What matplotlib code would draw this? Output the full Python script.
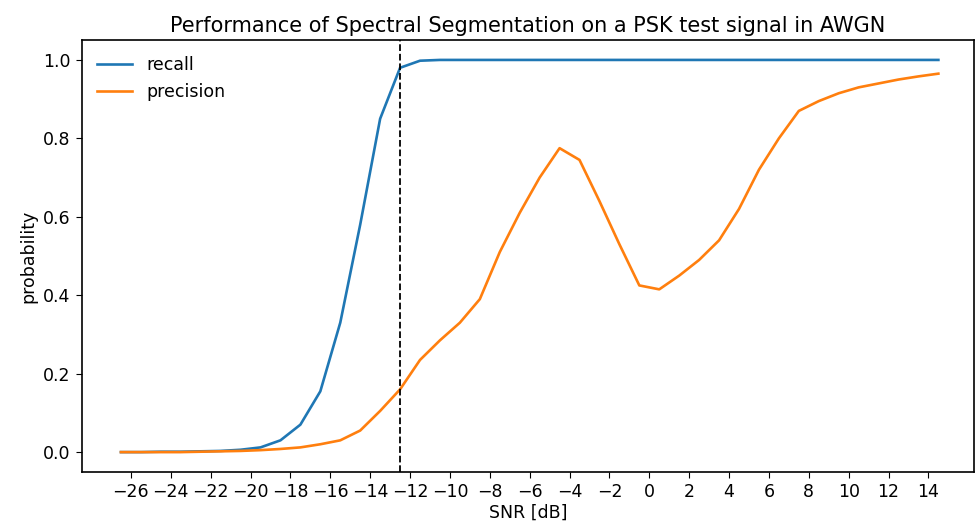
import matplotlib
matplotlib.use('Agg')
import matplotlib.pyplot as plt
import numpy as np

# snr grid (half dB offsets)
snr = np.arange(-26.5, 15, 1)

recall = [0.0, 0.0, 0.001, 0.001, 0.002, 0.003, 0.006, 0.012, 0.03, 0.07,
          0.155, 0.33, 0.58, 0.85, 0.98, 0.998, 1.0, 1.0, 1.0, 1.0,
          1.0, 1.0, 1.0, 1.0, 1.0, 1.0, 1.0, 1.0, 1.0, 1.0,
          1.0, 1.0, 1.0, 1.0, 1.0, 1.0, 1.0, 1.0, 1.0, 1.0,
          1.0, 1.0]

precision = [0.0, 0.0, 0.0, 0.0, 0.001, 0.002, 0.003, 0.005, 0.008, 0.012,
             0.02, 0.03, 0.055, 0.105, 0.16, 0.235, 0.285, 0.33, 0.39, 0.51,
             0.61, 0.70, 0.775, 0.745, 0.64, 0.53, 0.425, 0.415, 0.45, 0.49,
             0.54, 0.62, 0.72, 0.80, 0.87, 0.895, 0.915, 0.93, 0.94, 0.95,
             0.958, 0.965]

threshold = -12.5
xticks = np.arange(-26, 15, 2)

# original looks like a smaller figure scaled up ~1.3x
plt.rcParams['font.size'] = 12.5
plt.rcParams['axes.linewidth'] = 1.2
plt.rcParams['xtick.major.size'] = 4.5
plt.rcParams['ytick.major.size'] = 4.5

fig = plt.figure(figsize=(9.77, 5.25), dpi=100)
ax = fig.add_axes([0.0836, 0.1015, 0.9134, 0.8217])

ax.plot(snr, recall, label='recall', linewidth=1.9)
ax.plot(snr, precision, label='precision', linewidth=1.9)
ax.axvline(threshold, color='k', linestyle='--', linewidth=1.3)

ax.set_xticks(xticks)
ax.set_xlim(-28.47, 16.29)
ax.set_xlabel('SNR [dB]', labelpad=2)
ax.set_ylabel('probability')
ax.set_title('Performance of Spectral Segmentation on a PSK test signal in AWGN', fontsize=15)
ax.legend(loc='upper left', frameon=False)

fig.savefig('out.png', dpi=100)
